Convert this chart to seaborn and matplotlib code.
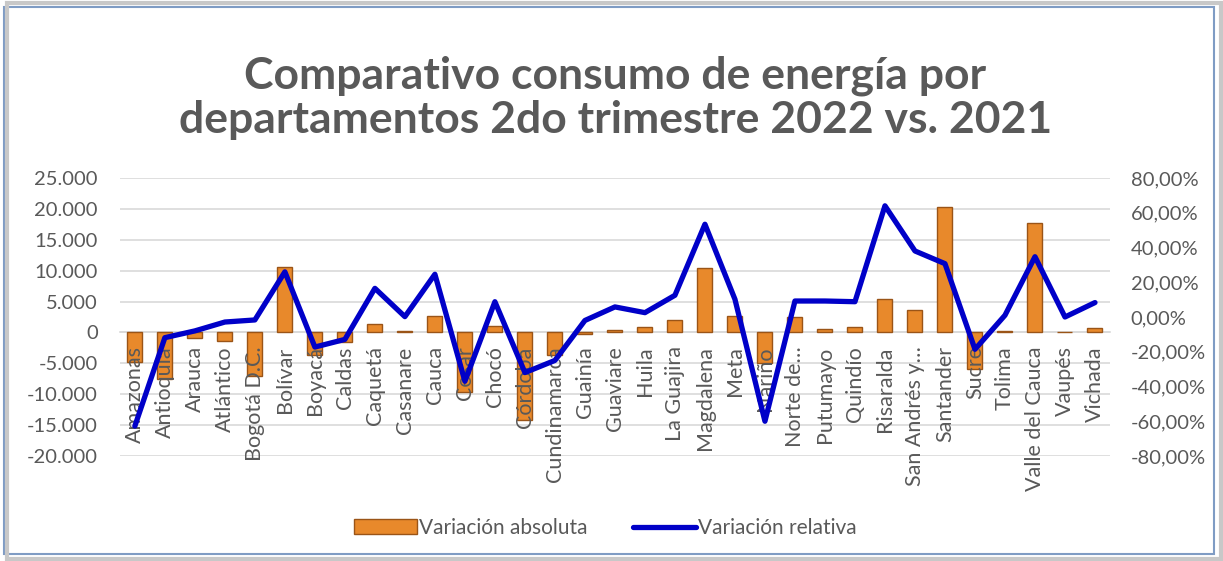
import matplotlib
matplotlib.use("Agg")
import matplotlib.pyplot as plt
from matplotlib.ticker import FuncFormatter, MultipleLocator
from matplotlib.patches import Rectangle, Patch
from matplotlib.lines import Line2D
import numpy as np
import pandas as pd
import seaborn as sns

# Data
departamentos = [
    "Amazonas", "Antioquia", "Arauca", "Atlántico", "Bogotá D.C.", "Bolívar",
    "Boyacá", "Caldas", "Caquetá", "Casanare", "Cauca", "Cesar", "Chocó",
    "Córdoba", "Cundinamarca", "Guainía", "Guaviare", "Huila", "La Guajira",
    "Magdalena", "Meta", "Nariño", "Norte de…", "Putumayo", "Quindío",
    "Risaralda", "San Andrés y…", "Santander", "Sucre", "Tolima",
    "Valle del Cauca", "Vaupés", "Vichada",
]
variacion_absoluta = [
    -4800, -7500, -900, -1400, -7100, 10600, -3600, -1500, 1300, 300, 2700,
    -9700, 1100, -14200, -3600, -200, 400, 900, 2000, 10500, 2600, -4900,
    2500, 500, 900, 5350, 3600, 20300, -6000, 300, 17700, 50, 750,
]
variacion_relativa = [
    -62.8, -11.9, -8.0, -2.9, -1.7, 26.0, -17.3, -12.9, 16.5, 0.2, 24.6,
    -37.0, 8.8, -32.0, -25.0, -2.0, 5.8, 2.5, 12.5, 53.4, 10.2, -60.0,
    9.2, 9.2, 8.8, 64.0, 38.0, 30.7, -18.6, 1.0, 34.7, 0.0, 8.3,
]
y_left_ticks = np.arange(-20000, 25001, 5000)

df = pd.DataFrame({
    "departamento": departamentos,
    "absoluta": variacion_absoluta,
    "relativa": variacion_relativa,
})

sns.set_style("white")
plt.rcParams["font.family"] = ["Lato", "DejaVu Sans"]

GRAY = "#595959"
ORANGE = "#E8892B"
EDGE = "#9A5417"
BLUE = "#0000C8"

fig = plt.figure(figsize=(12.23, 5.61), dpi=100)
ax = fig.add_axes([0.098, 0.1872, 0.8096, 0.4955])

# gridlines drawn by hand so tick labels can sit above the bars
for t in y_left_ticks:
    ax.axhline(t, color="#D9D9D9", linewidth=1.2, zorder=0.5)

# Bars (left axis)
sns.barplot(
    data=df, x="departamento", y="absoluta", color=ORANGE, width=0.5,
    edgecolor=EDGE, linewidth=1.0, saturation=1, ax=ax, zorder=2,
)
ax.set_ylim(-20000, 25000)
ax.set_xlim(-0.5, len(departamentos) - 0.5)
ax.set_yticks(y_left_ticks)
ax.yaxis.set_major_formatter(
    FuncFormatter(lambda v, p: "0" if v == 0 else f"{v:,.0f}".replace(",", "."))
)
ax.grid(False)
ax.set_axisbelow(False)
for s in ["top", "right", "left"]:
    ax.spines[s].set_visible(False)
ax.spines["bottom"].set_position(("data", 0))
ax.spines["bottom"].set_color("#D9D9D9")
ax.spines["bottom"].set_linewidth(1.2)
ax.spines["bottom"].set_zorder(0.6)
ax.tick_params(axis="y", length=0, pad=16, labelsize=14.5, labelcolor=GRAY)
ax.tick_params(axis="x", length=0, pad=10, labelsize=15.5, labelcolor=GRAY,
               labelrotation=90)
ax.set_xlabel("")
ax.set_ylabel("")

# Line (right axis)
ax2 = ax.twinx()
sns.lineplot(
    x=np.arange(len(departamentos)), y=df["relativa"], color=BLUE,
    linewidth=3.8, ax=ax2, zorder=5,
)
ax2.set_ylim(-80, 80)
ax2.yaxis.set_major_locator(MultipleLocator(20))
ax2.yaxis.set_major_formatter(
    FuncFormatter(lambda v, p: f"{v:.2f}%".replace(".", ","))
)
for s in ax2.spines.values():
    s.set_visible(False)
ax2.tick_params(axis="y", length=0, pad=15, labelsize=14.5, labelcolor=GRAY)
ax2.set_ylabel("")
ax2.grid(False)

fig.text(
    0.503, 0.826,
    "Comparativo consumo de energía por\ndepartamentos 2do trimestre 2022 vs. 2021",
    ha="center", va="center", fontsize=32, fontweight="bold", color=GRAY,
    linespacing=1.1,
)

handles = [
    Patch(facecolor=ORANGE, edgecolor=EDGE, linewidth=1.0),
    Line2D([0], [0], color=BLUE, linewidth=3.8),
]
fig.legend(
    handles, ["Variación absoluta", "Variación relativa"], loc="center",
    bbox_to_anchor=(0.495, 0.059), ncol=2, frameon=False, fontsize=15,
    labelcolor=GRAY, handlelength=3.0, handletextpad=0.1, columnspacing=2.2,
)

# Chart frame with shadow
fig.patches.append(Rectangle((0.006, 0.004), 0.992, 0.99, transform=fig.transFigure,
                             facecolor="none", edgecolor="#C8C8C8", linewidth=3))
fig.patches.append(Rectangle((0.003, 0.012), 0.99, 0.975, transform=fig.transFigure,
                             facecolor="white", edgecolor="#7F9CC4", linewidth=1.5,
                             zorder=-1))

fig.savefig("out.png", dpi=100)
